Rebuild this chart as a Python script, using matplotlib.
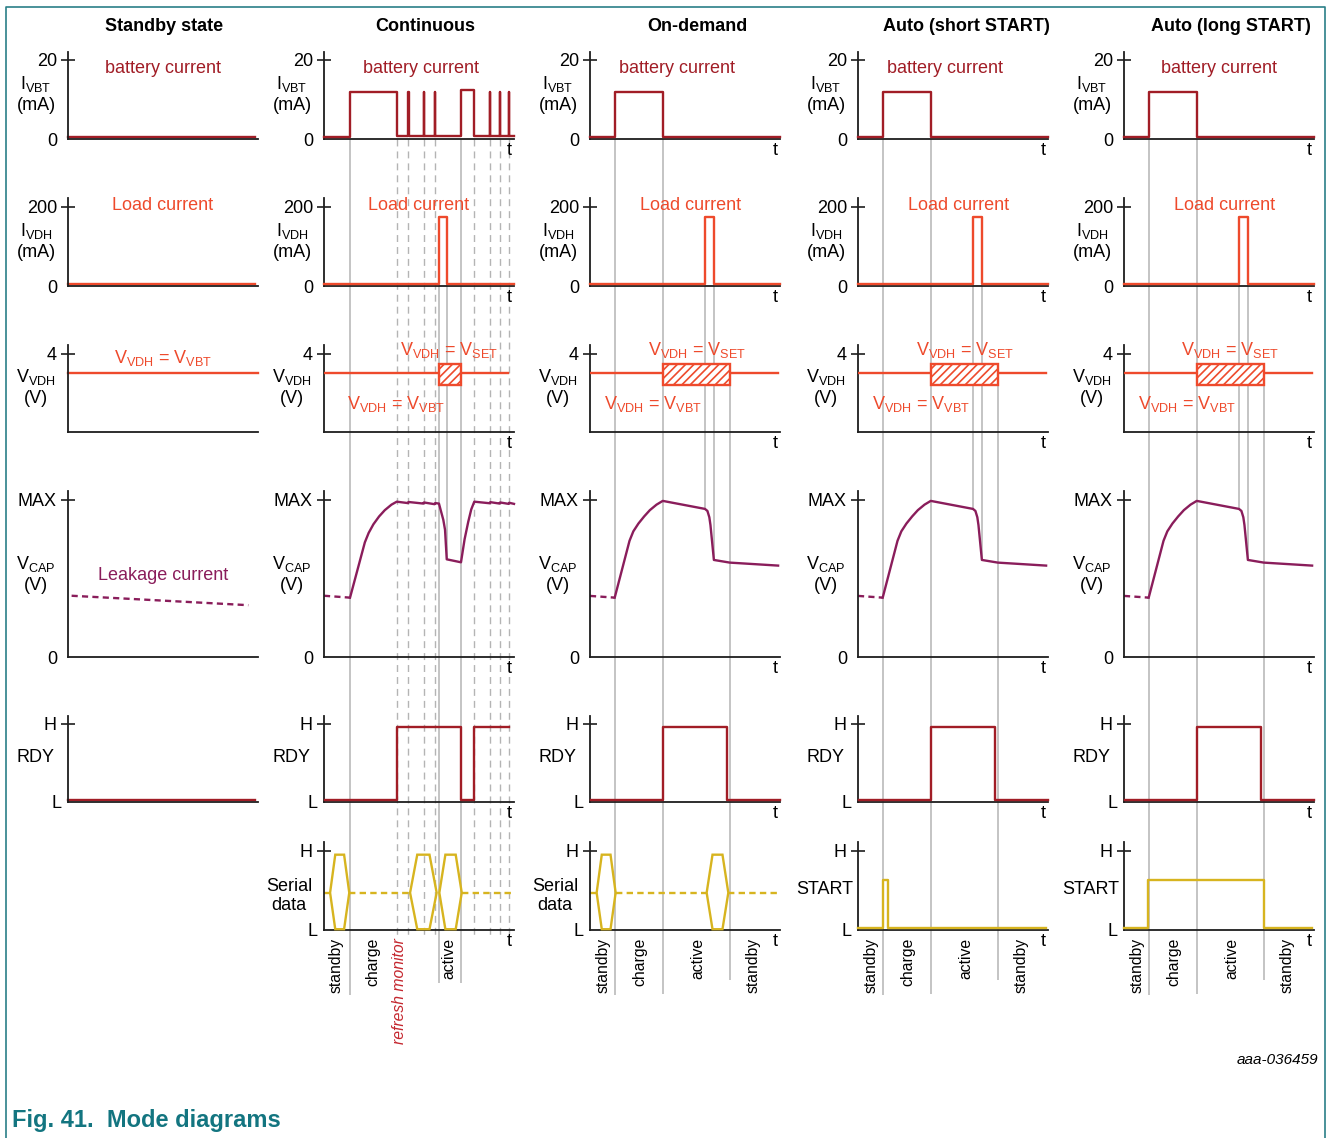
import matplotlib
matplotlib.use("Agg")
import matplotlib.pyplot as plt
from matplotlib.patches import Rectangle, Polygon
from matplotlib.transforms import offset_copy

plt.rcParams['font.family'] = ['Liberation Sans', 'DejaVu Sans']
plt.rcParams['mathtext.fontset'] = 'custom'
plt.rcParams['mathtext.rm'] = 'Liberation Sans'
plt.rcParams['mathtext.it'] = 'Liberation Sans:italic'
plt.rcParams['mathtext.bf'] = 'Liberation Sans:bold'
plt.rcParams['mathtext.default'] = 'regular'
plt.rcParams['hatch.linewidth'] = 1.2

W, H = 1328, 1138

DARKRED = '#a11d26'
ORANGE = '#ee4a2c'
PURPLE = '#8a1d5b'
GOLD = '#d7b41f'
GUIDE = '#b4b4b4'
TEAL = '#137580'
AXIS = '#1e1e1e'
plt.rcParams['hatch.color'] = ORANGE

# --- data: time on a 0..100 scale per column ---
titles = ['Standby state', 'Continuous', 'On-demand', 'Auto (short START)', 'Auto (long START)']

# standby state column
stby_end = 98.4
stby_vbt = 0.5      # mA
stby_vdh = 5.0      # mA
stby_rdy = 0.02
leak_t = [1.9, 94.9]
leak_v = [0.39, 0.33]

# common levels
vvdh_level = 3.0          # V
set_lo, set_hi = 2.4, 3.5  # V_SET regulation band
bus_lo, bus_mid, bus_hi = 0.01, 0.47, 0.95

# continuous column
cont_vbt_t = [0, 13.7, 38.3, 44.3, 44.5, 52.4, 52.6, 58.3, 58.5, 72.1, 79.1,
              87.3, 87.5, 92.5, 92.7, 97.3, 97.5, 100]
cont_vbt_v = [0.5, 12, 0.7, 12, 0.7, 12, 0.7, 12, 0.7, 12.3, 0.7,
              12, 0.7, 12, 0.7, 12, 0.7, 0.7]
cont_vdh_t = [0, 60.5, 64.6, 100]
cont_vdh_v = [5, 175, 5, 5]
cont_vvdh_end = 97.0
cont_set = (60.5, 72.1)
cont_cap_lead_t = [0, 13.7]
cont_cap_lead_v = [0.39, 0.378]
cont_cap_t = [13.7, 21.5, 23.5, 26.0, 29.0, 32.0, 35.5, 38.3, 44.2, 44.5, 52.3, 52.6, 58.2, 58.5, 60.5,
              62.8, 63.7, 64.6, 72.1, 74.0, 75.9, 77.5, 79.1, 87.2, 87.5, 92.4, 92.7,
              97.2, 97.5, 100]
cont_cap_v = [0.378, 0.73, 0.79, 0.845, 0.895, 0.935, 0.97, 0.989, 0.980, 0.987, 0.977, 0.984, 0.973, 0.980, 0.977,
              0.873, 0.81, 0.622, 0.603, 0.75, 0.86, 0.94, 0.989, 0.979, 0.986, 0.977, 0.984,
              0.975, 0.982, 0.975]
cont_rdy_t = [0.5, 38.3, 71.9, 79.1, 97.4]
cont_rdy_v = [0.02, 0.96, 0.02, 0.96, 0.96]
cont_bus = [(3.2, 13.3), (45.3, 59.3), (60.7, 72.5)]
cont_phase_t = [6.3, 25.8, 40.0, 65.8]
cont_phase = ['standby', 'charge', 'refresh monitor', 'active']
cont_solid = [(13.7, 139, 995), (60.5, 285, 983), (64.6, 285, 559), (72.1, 139, 983)]
cont_dashed = [38.3, 44.4, 52.5, 58.4, 79.1, 87.4, 92.6, 97.4]

# single-shot columns (on-demand, auto short, auto long)
single_vbt_t = [0, 13.0, 38.3, 100]
single_vbt_v = [0.5, 12, 0.6, 0.6]
single_vdh_t = [0, 60.5, 65.2, 100]
single_vdh_v = [5, 175, 5, 5]
single_vvdh_end = 99.0
single_set = (38.3, 73.8)
single_cap_lead_t = [0, 13.0]
single_cap_lead_v = [0.389, 0.378]
single_cap_t = [13.0, 20.8, 22.8, 25.5, 28.5, 31.5, 35.0, 38.3, 60.5, 61.8, 62.8, 63.4, 65.2, 73.6, 99]
single_cap_v = [0.378, 0.74, 0.80, 0.85, 0.895, 0.935, 0.97, 0.994, 0.943, 0.93, 0.89, 0.84, 0.618, 0.601, 0.582]
single_rdy_t = [0.5, 38.3, 72.3, 100]
single_rdy_v = [0.02, 0.96, 0.02, 0.02]
single_phase_t = [7.0, 26.0, 57.0, 85.8]
single_phase = ['standby', 'charge', 'active', 'standby']
single_solid = [(13.0, 139, 995), (38.3, 139, 994), (60.5, 285, 510), (65.2, 285, 560), (73.6, 385, 980)]

ondemand_bus = [(3.5, 13.5), (61.4, 72.8)]
short_start_t = [0, 13.0, 15.6, 99]
short_start_v = [0.02, 0.63, 0.02, 0.02]
long_start_t = [0, 12.8, 73.6, 99]
long_start_v = [0.02, 0.63, 0.02, 0.02]

# --- layout (pixels) ---
col_x0 = [68, 324, 590, 858, 1124]
col_w = 190
row_base = [139, 286, 432, 657, 802, 930]
row_top = [52, 198, 345, 491, 716, 842]
row_ymax = [22.0, 222.0, 4.46, 1.057, 1.10, 1.11]
row_tick = [20, 200, 4, 1.0, 1.0, 1.0]
row_ticklabel = ['20', '200', '4', 'MAX', 'H', 'H']
row_zero = ['0', '0', None, '0', 'L', 'L']
row_zero_pad = [8, 8, 8, 8, 4.5, 4.5]
row_label = ['I$_{VBT}$\n(mA)', 'I$_{VDH}$\n(mA)', 'V$_{VDH}$\n(V)', 'V$_{CAP}$\n(V)', 'RDY', 'Serial\ndata']
row_label_dy = [45, 45, 45, 83, 44, 34]

FS = 13
LW = 1.7

fig = plt.figure(figsize=(W / 100, H / 100), dpi=100)

bg = fig.add_axes([0, 0, 1, 1])
bg.set_xlim(0, W)
bg.set_ylim(H, 0)
bg.axis('off')
bg.plot([5.5, 5.5, 1325, 1325], [H, 7, 7, H], color='#2a7f88', lw=1.2)
bg.text(12, 1120, 'Fig. 41.  Mode diagrams', color=TEAL, fontsize=17, fontweight='bold',
        ha='left', va='center')
bg.text(1318, 1060, 'aaa-036459', fontsize=11, style='italic', ha='right', va='center')
title_x = [164, 425, 697, 966, 1231]
for tx, tt in zip(title_x, titles):
    bg.text(tx, 26, tt, fontsize=13, fontweight='bold', ha='center', va='center')


def overlay(col):
    ax = fig.add_axes([col_x0[col] / W, 0, col_w / W, 1])
    ax.set_xlim(0, 100)
    ax.set_ylim(H, 0)
    ax.axis('off')
    return ax


def panel(col, row, label=None, label_dx=-32, label_dy=None):
    x0 = col_x0[col]
    base, top = row_base[row], row_top[row]
    ax = fig.add_axes([x0 / W, 1 - base / H, col_w / W, (base - top) / H])
    ax.set_xlim(0, 100)
    ax.set_ylim(0, row_ymax[row])
    ax.patch.set_visible(False)
    for s in ['top', 'right']:
        ax.spines[s].set_visible(False)
    for s in ['left', 'bottom']:
        ax.spines[s].set_color(AXIS)
        ax.spines[s].set_linewidth(1.3)
    ax.set_xticks([])
    ax.set_yticks([row_tick[row]])
    ax.set_yticklabels([row_ticklabel[row]])
    ax.tick_params(axis='y', which='major', direction='inout', length=10, width=1.2,
                   pad=3, labelsize=FS, color=AXIS)
    if row_zero[row] is not None:
        ax.set_yticks([0], minor=True)
        ax.set_yticklabels([row_zero[row]], minor=True)
        ax.tick_params(axis='y', which='minor', length=0, pad=row_zero_pad[row], labelsize=FS)
    if col > 0:
        ax.text(1.0, 0, 't', transform=offset_copy(ax.transAxes, fig, x=-2, y=-3, units='dots'),
                ha='right', va='top', fontsize=FS)
    lbl = label if label is not None else row_label[row]
    dy = label_dy if label_dy is not None else row_label_dy[row]
    ax.text(0, 0, lbl, transform=offset_copy(ax.transAxes, fig, x=label_dx, y=dy, units='dots'),
            ha='center', va='center', fontsize=FS, linespacing=1.2, multialignment='center')
    return ax


def step(ax, t, v, color):
    ax.plot(t, v, drawstyle='steps-post', color=color, lw=LW, clip_on=False, zorder=3)


def vvdh_panel(ax, t_end, box):
    ax.plot([0, t_end], [vvdh_level, vvdh_level], color=ORANGE, lw=LW, zorder=3)
    ax.add_patch(Rectangle((box[0], set_lo), box[1] - box[0], set_hi - set_lo,
                           facecolor='white', edgecolor=ORANGE, hatch='////', lw=LW, zorder=4))


def bus(ax, bursts):
    ends = [0] + [b for _, b in bursts]
    starts = [a for a, _ in bursts] + [100]
    for e, s in zip(ends, starts):
        if s - e > 1.5:
            ax.plot([e, s], [bus_mid, bus_mid], color=GOLD, lw=LW, linestyle=(0, (2.7, 1.8)),
                    clip_on=False)
    for a, b in bursts:
        sl = 0.27 * (b - a)
        ax.add_patch(Polygon([(a, bus_mid), (a + sl, bus_hi), (b - sl, bus_hi), (b, bus_mid),
                              (b - sl, bus_lo), (a + sl, bus_lo)], closed=True, fill=False,
                             edgecolor=GOLD, lw=LW, clip_on=False, zorder=3))


# ---------- column 1: standby state ----------
axs = [panel(0, r) for r in range(5)]
axs[0].plot([0, stby_end], [stby_vbt, stby_vbt], color=DARKRED, lw=LW, clip_on=False)
axs[0].text(0.5, 0.816, 'battery current', transform=axs[0].transAxes, color=DARKRED,
            fontsize=FS, ha='center', va='center')
axs[1].plot([0, stby_end], [stby_vdh, stby_vdh], color=ORANGE, lw=LW, clip_on=False)
axs[1].text(0.5, 0.92, 'Load current', transform=axs[1].transAxes, color=ORANGE,
            fontsize=FS, ha='center', va='center')
axs[2].plot([0, 100], [vvdh_level, vvdh_level], color=ORANGE, lw=LW, clip_on=False)
axs[2].text(0.5, 0.85, 'V$_{VDH}$ = V$_{VBT}$', transform=axs[2].transAxes, color=ORANGE,
            fontsize=FS, ha='center', va='center')
axs[3].plot(leak_t, leak_v, color=PURPLE, lw=LW, linestyle=(0, (2.6, 1.8)))
axs[3].text(0.5, 0.49, 'Leakage current', transform=axs[3].transAxes, color=PURPLE,
            fontsize=FS, ha='center', va='center')
axs[4].plot([0, stby_end], [stby_rdy, stby_rdy], color=DARKRED, lw=LW, clip_on=False)

# ---------- columns 2..5 ----------
col_specs = [
    dict(col=1, vbt=(cont_vbt_t, cont_vbt_v), vdh=(cont_vdh_t, cont_vdh_v), vend=cont_vvdh_end,
         box=cont_set, lead=(cont_cap_lead_t, cont_cap_lead_v), cap=(cont_cap_t, cont_cap_v),
         rdy=(cont_rdy_t, cont_rdy_v), phase=(cont_phase_t, cont_phase), solid=cont_solid,
         dashed=cont_dashed, bx=0.51, lx=0.5, sx=0.66, vx=0.379),
    dict(col=2, vbt=(single_vbt_t, single_vbt_v), vdh=(single_vdh_t, single_vdh_v),
         vend=single_vvdh_end, box=single_set, lead=(single_cap_lead_t, single_cap_lead_v),
         cap=(single_cap_t, single_cap_v), rdy=(single_rdy_t, single_rdy_v),
         phase=(single_phase_t, single_phase), solid=single_solid, dashed=[],
         bx=0.46, lx=0.53, sx=0.563, vx=0.331),
    dict(col=3, vbt=(single_vbt_t, single_vbt_v), vdh=(single_vdh_t, single_vdh_v),
         vend=single_vvdh_end, box=single_set, lead=(single_cap_lead_t, single_cap_lead_v),
         cap=(single_cap_t, single_cap_v), rdy=(single_rdy_t, single_rdy_v),
         phase=(single_phase_t, single_phase), solid=single_solid, dashed=[],
         bx=0.46, lx=0.53, sx=0.563, vx=0.331),
    dict(col=4, vbt=(single_vbt_t, single_vbt_v), vdh=(single_vdh_t, single_vdh_v),
         vend=single_vvdh_end, box=single_set, lead=(single_cap_lead_t, single_cap_lead_v),
         cap=(single_cap_t, single_cap_v), rdy=(single_rdy_t, single_rdy_v),
         phase=(single_phase_t, single_phase), solid=single_solid, dashed=[],
         bx=0.5, lx=0.53, sx=0.558, vx=0.331),
]

for spec in col_specs:
    c = spec['col']
    ov = overlay(c)
    for t, y0, y1 in spec['solid']:
        ov.vlines(t, y0, y1, colors=GUIDE, lw=1.1)
    for t in spec['dashed']:
        ov.vlines(t, 139, 935, colors=GUIDE, lw=1.0, linestyles=(0, (5, 3.6)))
    for t, name in zip(*spec['phase']):
        if name == 'refresh monitor':
            ov.text(t, 938, name, rotation=90, ha='center', va='top', fontsize=11.3,
                    color='#c4262e', style='italic')
        else:
            ov.text(t, 938, name, rotation=90, ha='center', va='top', fontsize=11.3)

    if c == 1 or c == 2:
        last = panel(c, 5, label_dx=-35)
    else:
        last = panel(c, 5, label='START', label_dx=-33, label_dy=41)
    axs = [panel(c, r) for r in range(5)] + [last]

    step(axs[0], *spec['vbt'], DARKRED)
    axs[0].text(spec['bx'], 0.816, 'battery current', transform=axs[0].transAxes,
                color=DARKRED, fontsize=FS, ha='center', va='center')
    step(axs[1], *spec['vdh'], ORANGE)
    axs[1].text(spec['lx'], 0.92, 'Load current', transform=axs[1].transAxes,
                color=ORANGE, fontsize=FS, ha='center', va='center')
    vvdh_panel(axs[2], spec['vend'], spec['box'])
    axs[2].text(spec['sx'], 0.94, 'V$_{VDH}$ = V$_{SET}$', transform=axs[2].transAxes,
                color=ORANGE, fontsize=FS, ha='center', va='center')
    axs[2].text(spec['vx'], 0.32, 'V$_{VDH}$ = V$_{VBT}$', transform=axs[2].transAxes,
                color=ORANGE, fontsize=FS, ha='center', va='center')
    axs[3].plot(*spec['lead'], color=PURPLE, lw=LW, linestyle=(0, (2.6, 1.8)))
    axs[3].plot(*spec['cap'], color=PURPLE, lw=LW, clip_on=False)
    step(axs[4], *spec['rdy'], DARKRED)

    if c == 1:
        bus(axs[5], cont_bus)
    elif c == 2:
        bus(axs[5], ondemand_bus)
    elif c == 3:
        step(axs[5], short_start_t, short_start_v, GOLD)
    else:
        step(axs[5], long_start_t, long_start_v, GOLD)

fig.savefig('out.png', dpi=100)
